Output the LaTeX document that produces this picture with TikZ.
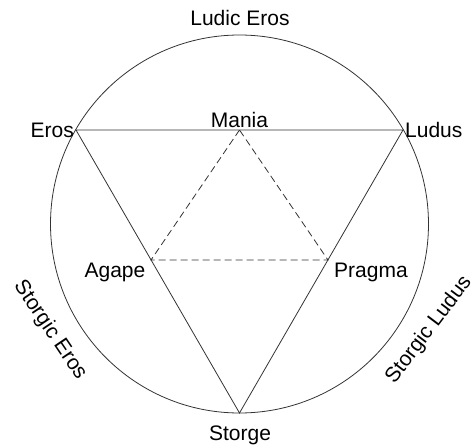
\documentclass[tikz,border=0pt]{standalone}
\usepackage{fontspec}
\setmainfont{Liberation Sans}
\usepackage{tikz}

\tikzset{
  linea/.style={line width=0.8pt, black!80},
  discontinua/.style={line width=0.8pt, black!80, dash pattern=on 7pt off 4pt},
  etiqueta/.style={font=\fontsize{21}{25}\selectfont, inner sep=2pt}
}

\begin{document}
\begin{tikzpicture}[x=1pt,y=-1pt]

% Marco de la figura
\useasboundingbox (0,0) rectangle (475,445);

% Vértices
\coordinate (eros) at (76,130);
\coordinate (ludus) at (403,130);
\coordinate (storge) at (239.5,413);
\coordinate (mania) at (239.5,130);
\coordinate (agape) at (151,260);
\coordinate (pragma) at (328,260);

% Círculo
\draw[linea] (239.5,224) circle (189);

% Triángulo exterior
\draw[linea] (eros) -- (ludus) -- (storge) -- cycle;

% Triángulo interior
\draw[discontinua] (mania) -- (agape) -- (pragma) -- cycle;

% Etiquetas
\node[etiqueta] (ludiceros) at (240,18) {Ludic Eros};
\node[etiqueta, left] (leros) at (eros) {Eros};
\node[etiqueta, right] (lludus) at (ludus) {Ludus};
\node[etiqueta, above] (lmania) at (mania) {Mania};
\node[etiqueta] (lagape) at (115,272) {Agape};
\node[etiqueta] (lpragma) at (371,272) {Pragma};
\node[etiqueta] (lstorge) at (240,435) {Storge};
\node[etiqueta, rotate=-56] (storgiceros) at (50,330) {Storgic Eros};
\node[etiqueta, rotate=53] (storgicludus) at (429,330) {Storgic Ludus};

\end{tikzpicture}
\end{document}
